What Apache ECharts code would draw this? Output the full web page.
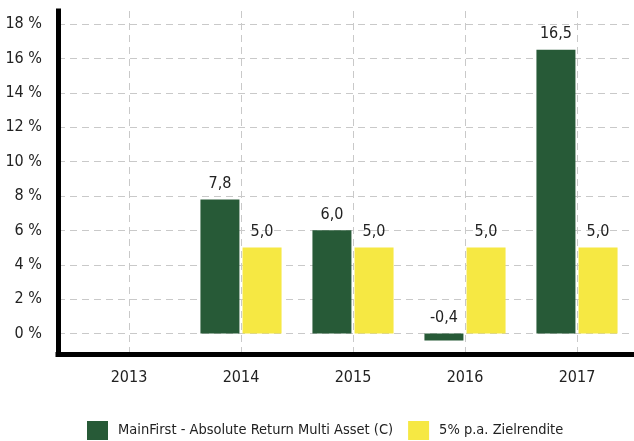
<!DOCTYPE html>
<html>
<head>
<meta charset="utf-8">
<script src="https://cdn.jsdelivr.net/npm/echarts@6/dist/echarts.min.js"></script>
<style>
  html, body { margin: 0; padding: 0; background: #fff; }
  #chart { width: 634px; height: 441px; }
</style>
</head>
<body>
<div id="chart"></div>
<script>
// Jahre und Wertentwicklung in %
var years = ["2013", "2014", "2015", "2016", "2017"];
var fundValues = [null, 7.8, 6.0, -0.4, 16.5];
var targetValues = [null, 5.0, 5.0, 5.0, 5.0];
var yTicks = [0, 2, 4, 6, 8, 10, 12, 14, 16, 18];
var seriesNames = ["MainFirst - Absolute Return Multi Asset (C)", "5% p.a. Zielrendite"];

// Positionen der Kategorien (für die senkrechten Gitterlinien in der Mitte)
var yearIndex = years.map(function (y, i) { return i; });

var font = "'Liberation Sans Narrow', 'DejaVu Sans Condensed', sans-serif";
var textColor = "#222";
var dash = { color: "#c9c9c9", width: 1, type: [7, 5] };

function fmtComma(p) {
    return p.value == null ? "" : p.value.toFixed(1).replace(".", ",");
}

var myChart = echarts.init(document.getElementById("chart"));

var option = {
    animation: false,
    textStyle: { fontFamily: font },
    grid: [
        // Rahmen: Achsenlinien + horizontale Gitterlinien
        { left: 58, right: 1, top: 11, bottom: 86.5 },
        // Balken
        { left: 73, right: 1, top: 11, bottom: 86.5 }
    ],
    legend: {
        left: 87,
        top: 421,
        padding: 0,
        icon: "rect",
        itemWidth: 21,
        itemHeight: 19,
        itemGap: 15,
        textStyle: { fontFamily: font, fontSize: 14.5, color: textColor, padding: [0, 0, 0, 5] },
        data: seriesNames
    },
    xAxis: [
        {
            gridIndex: 0,
            type: "category",
            data: years,
            axisLine: { onZero: false, lineStyle: { color: "#000", width: 5, cap: "square" } },
            axisTick: { show: false },
            axisLabel: { show: false },
            splitLine: { show: false }
        },
        {
            gridIndex: 1,
            type: "category",
            data: years,
            axisLine: { show: false, onZero: false },
            axisTick: { show: false },
            axisLabel: { margin: 15, fontFamily: font, fontSize: 16, color: textColor },
            splitLine: { show: false }
        },
        {
            // nur für die senkrechten gestrichelten Linien in der Kategoriemitte
            gridIndex: 1,
            type: "value",
            min: -0.5,
            max: 4.5,
            axisLine: { show: false, onZero: false },
            axisTick: { show: false, customValues: yearIndex },
            axisLabel: { show: false, customValues: yearIndex },
            splitLine: { show: true, lineStyle: dash }
        }
    ],
    yAxis: [
        {
            gridIndex: 0,
            type: "value",
            min: -1.22,
            max: 18.76,
            axisLine: { show: true, lineStyle: { color: "#000", width: 5, cap: "square" } },
            axisTick: { show: false, customValues: yTicks },
            axisLabel: {
                customValues: yTicks,
                margin: 16,
                fontFamily: font,
                fontSize: 16,
                color: textColor,
                formatter: function (v) { return v + " %"; }
            },
            splitLine: { show: true, lineStyle: dash }
        },
        {
            gridIndex: 1,
            type: "value",
            min: -1.22,
            max: 18.76,
            show: false,
            splitLine: { show: false }
        }
    ],
    series: [
        {
            name: seriesNames[0],
            type: "bar",
            xAxisIndex: 1,
            yAxisIndex: 1,
            data: fundValues,
            barWidth: 39,
            barGap: "8%",
            itemStyle: { color: "#275a37" },
            label: {
                show: true,
                position: "top",
                distance: 8,
                fontFamily: font,
                fontSize: 16,
                color: textColor,
                formatter: fmtComma
            }
        },
        {
            name: seriesNames[1],
            type: "bar",
            xAxisIndex: 1,
            yAxisIndex: 1,
            data: targetValues,
            barWidth: 39,
            barGap: "8%",
            itemStyle: { color: "#f6e843" },
            label: {
                show: true,
                position: "top",
                distance: 8,
                fontFamily: font,
                fontSize: 16,
                color: textColor,
                formatter: fmtComma
            }
        }
    ]
};

myChart.setOption(option);
</script>
</body>
</html>
